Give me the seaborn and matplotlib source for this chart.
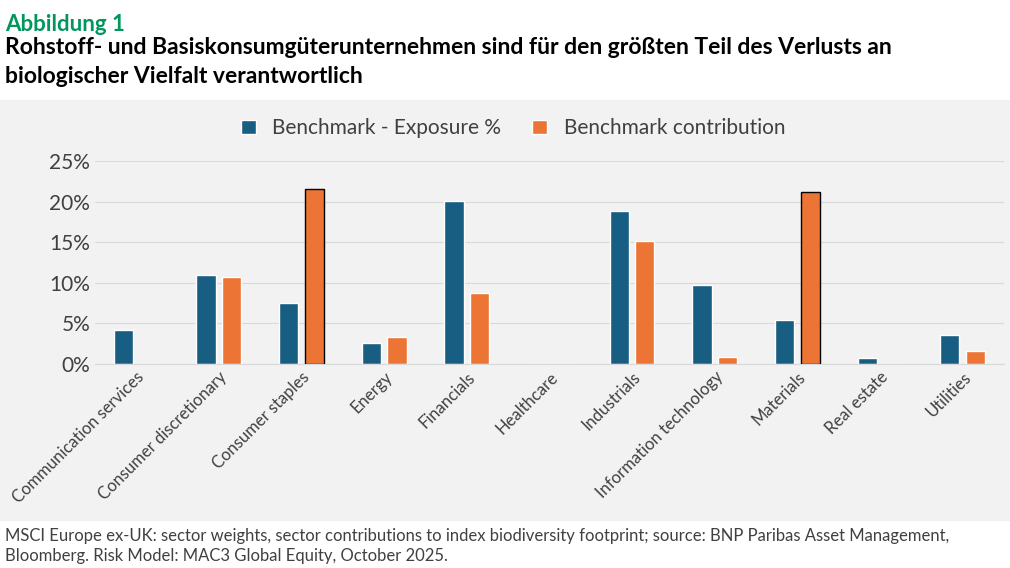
import pandas as pd
import seaborn as sns
import matplotlib.pyplot as plt
from matplotlib.patches import Rectangle

sectors = ["Communication services", "Consumer discretionary", "Consumer staples", "Energy",
           "Financials", "Healthcare", "Industrials", "Information technology",
           "Materials", "Real estate", "Utilities"]
exposure = [4.2, 10.9, 7.5, 2.6, 20.1, 0.0, 18.9, 9.7, 5.4, 0.8, 3.6]
contribution = [0.0, 10.7, 21.6, 3.3, 8.8, 0.0, 15.1, 0.9, 21.2, 0.0, 1.6]
series = ["Benchmark - Exposure %", "Benchmark contribution"]

df = pd.DataFrame({
    "sector": sectors * 2,
    "value": exposure + contribution,
    "series": [series[0]] * len(sectors) + [series[1]] * len(sectors),
})

sns.set_style("white")
plt.rcParams['font.family'] = ['Lato', 'DejaVu Sans']

fig = plt.figure(figsize=(10.1, 5.68), dpi=100)
fig.add_artist(Rectangle((0, 1 - 520 / 568), 1, (520 - 100) / 568, transform=fig.transFigure,
                         color="#f2f2f2", zorder=-5))

ax = fig.add_axes([0.094, 1 - 364 / 568, 0.9, 203 / 568])
ax.set_facecolor("#f2f2f2")
sns.barplot(data=df, x="sector", y="value", hue="series", ax=ax,
            palette=["#175e82", "#ec7434"], width=0.62, gap=0.25, saturation=1)

# black outline on the two large contribution bars
for p, s in zip(ax.patches[len(sectors):2 * len(sectors)], sectors):
    if s in ("Consumer staples", "Materials"):
        p.set_edgecolor("black")
        p.set_linewidth(1)

ax.set_ylim(0, 25)
ax.set_yticks([0, 5, 10, 15, 20, 25])
ax.set_yticklabels([f"{v}%" for v in range(0, 30, 5)], fontsize=15, color="#404040")
ax.yaxis.grid(True, color="#d9d9d9", lw=0.8)
ax.set_axisbelow(True)
ax.set_xlabel("")
ax.set_ylabel("")
ax.tick_params(axis="x", labelsize=12, colors="#404040", length=0)
ax.tick_params(axis="y", length=0)
plt.setp(ax.get_xticklabels(), rotation=45, ha="right", rotation_mode="anchor")
for s in ["top", "right", "left"]:
    ax.spines[s].set_visible(False)
ax.spines["bottom"].set_color("#d9d9d9")

ax.legend(loc="lower center", bbox_to_anchor=(0.46, 1.02), ncol=2, frameon=False,
          fontsize=15, labelcolor="#404040", handlelength=0.7, handleheight=0.7,
          columnspacing=1.5)

fig.text(0.005, 0.975, "Abbildung 1", fontsize=16, fontweight="bold", color="#00965e", va="top")
fig.text(0.005, 0.935, "Rohstoff- und Basiskonsumgüterunternehmen sind für den größten Teil des Verlusts an\n"
         "biologischer Vielfalt verantwortlich", fontsize=16.5, fontweight="bold", color="black",
         va="top", linespacing=1.45)
fig.text(0.005, 0.07, "MSCI Europe ex-UK: sector weights, sector contributions to index biodiversity footprint; "
         "source: BNP Paribas Asset Management,\nBloomberg. Risk Model: MAC3 Global Equity, October 2025.",
         fontsize=12, color="#404040", va="top", linespacing=1.3)

fig.savefig("out.png", dpi=100)
